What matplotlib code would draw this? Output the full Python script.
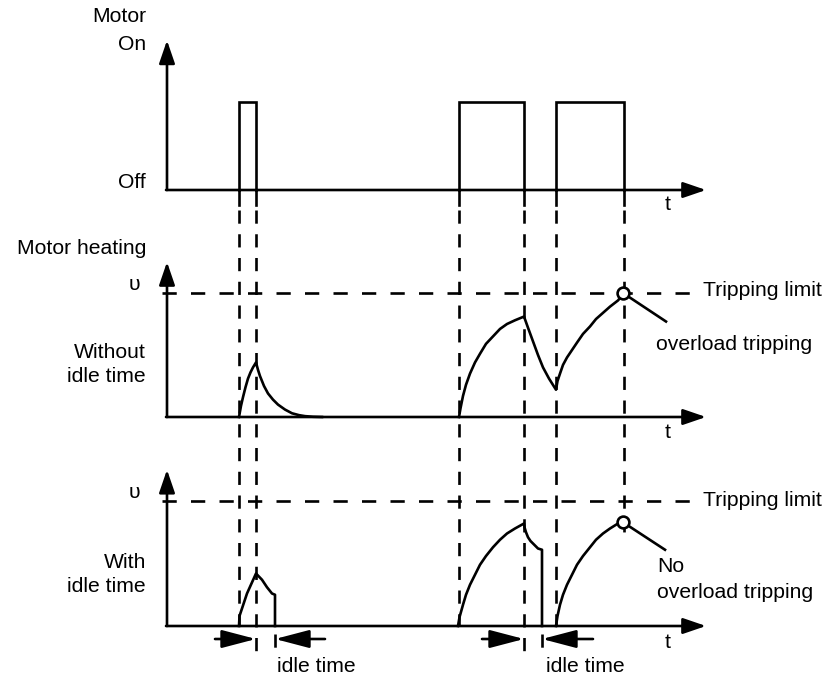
import matplotlib
matplotlib.use("Agg")
import matplotlib.pyplot as plt

plt.rcParams['font.family'] = ['Liberation Sans', 'DejaVu Sans']

# ---------------- data (time in arbitrary units, heating relative to tripping limit) -------------
t_axis_end = 53.9
t_on = [7.2, 29.2, 38.9]
t_off = [8.9, 35.7, 45.7]
t_idle_end = [10.8, 37.5]
motor_on_level = 1.0

# heating without idle time (segments)
wo_seg1_t = [7.2, 7.4, 7.6, 7.85, 8.1, 8.35, 8.6, 8.9,
             9.1, 9.3, 9.7, 10.1, 10.6, 11.1, 11.8, 12.5, 13.2, 13.8, 14.6, 15.5]
wo_seg1_v = [0.0, 0.09, 0.16, 0.24, 0.31, 0.36, 0.40, 0.44,
             0.38, 0.33, 0.25, 0.19, 0.14, 0.10, 0.06, 0.03, 0.015, 0.007, 0.002, 0.0]
wo_seg2_t = [29.2, 29.35, 29.6, 29.9, 30.3, 30.8, 31.3, 31.9, 32.6, 33.3, 34.0, 34.8, 35.7,
             36.1, 36.6, 37.1, 37.6, 38.2, 38.9,
             39.05, 39.3, 39.6, 40.0, 40.5, 41.0, 41.6, 42.3, 42.9, 43.6, 44.3, 45.1, 45.6]
wo_seg2_v = [0.0, 0.07, 0.17, 0.26, 0.35, 0.44, 0.51, 0.59, 0.65, 0.71, 0.75, 0.78, 0.81,
             0.72, 0.61, 0.50, 0.40, 0.31, 0.22,
             0.29, 0.35, 0.42, 0.48, 0.54, 0.60, 0.67, 0.73, 0.79, 0.84, 0.89, 0.94, 0.99]

# heating with idle time (segments)
wi_seg1_t = [7.2, 7.25, 8.0, 8.9, 9.2, 9.5, 10.0, 10.5, 10.8, 10.8]
wi_seg1_v = [0.0, 0.08, 0.26, 0.42, 0.395, 0.37, 0.31, 0.26, 0.25, 0.0]
wi_seg2_t = [29.1, 29.25, 29.6, 29.9, 30.3, 30.8, 31.3, 31.9, 32.6, 33.3, 34.0, 34.8, 35.7,
             35.75, 35.9, 36.1, 36.35, 36.6, 37.1, 37.5, 37.5]
wi_seg2_v = [0.0, 0.07, 0.17, 0.25, 0.33, 0.41, 0.49, 0.56, 0.63, 0.69, 0.74, 0.78, 0.82,
             0.79, 0.75, 0.71, 0.68, 0.66, 0.62, 0.61, 0.0]
wi_seg3_t = [38.9, 39.05, 39.3, 39.6, 40.0, 40.5, 41.0, 41.6, 42.3, 42.9, 43.6, 44.3, 45.1, 45.6]
wi_seg3_v = [0.0, 0.08, 0.17, 0.25, 0.33, 0.41, 0.49, 0.56, 0.63, 0.69, 0.74, 0.78, 0.82, 0.83]

trip_limit = 1.0
trip_point_wo = (45.6, 1.0)
trip_point_wi = (45.6, 0.83)
pointer_wo_end = (49.9, 0.77)
pointer_wi_end = (49.8, 0.61)

# ---------------- figure & axes ----------------
W, H = 827, 678
fig = plt.figure(figsize=(W / 100, H / 100), dpi=100)
XLIM = (-16.7, 66.0)

ov = fig.add_axes([0, 0, 1, 1])
ov.set_xlim(*XLIM)
ov.set_ylim(H, 0)
ov.axis('off')
ov.patch.set_alpha(0)


def panel(base_px, ppu):
    ax = fig.add_axes([0, 0, 1, 1])
    ax.set_xlim(*XLIM)
    ax.set_ylim((base_px - H) / ppu, base_px / ppu)
    ax.axis('off')
    ax.patch.set_alpha(0)
    return ax


top = panel(190, 88)
mid = panel(417, 124)
bot = panel(626, 125)

LW = 1.9
K = 'black'
axis_arrow = dict(arrowstyle='-|>,head_length=1.4,head_width=0.48', mutation_scale=10,
                  lw=LW, color=K, shrinkA=0, shrinkB=0)


def coord_axes(ax, ytop):
    ax.annotate('', xy=(0, ytop), xytext=(0, 0), arrowprops=axis_arrow)
    ax.annotate('', xy=(t_axis_end, 0), xytext=(-0.1, 0), arrowprops=axis_arrow)


coord_axes(top, 1.7)
coord_axes(mid, 1.25)
coord_axes(bot, 1.25)

# motor pulses
for a, b in zip(t_on, t_off):
    top.plot([a, a, b, b], [0, motor_on_level, motor_on_level, 0], color=K, lw=LW,
             solid_joinstyle='miter')
    top.plot([a, a], [0, -0.17], color=K, lw=LW)
    top.plot([b, b], [0, -0.17], color=K, lw=LW)

# heating curves
for ax, tt, vv in [(mid, wo_seg1_t, wo_seg1_v), (mid, wo_seg2_t, wo_seg2_v),
                   (bot, wi_seg1_t, wi_seg1_v), (bot, wi_seg2_t, wi_seg2_v),
                   (bot, wi_seg3_t, wi_seg3_v)]:
    ax.plot(tt, vv, color=K, lw=LW, solid_joinstyle='round')

# tripping limit lines
for ax in (mid, bot):
    ax.plot([-0.5, 52.3], [trip_limit, trip_limit], color=K, lw=LW,
            linestyle=(0, (5.4, 5.4)))

# pointer lines and circles
mid.plot([trip_point_wo[0], pointer_wo_end[0]], [trip_point_wo[1], pointer_wo_end[1]],
         color=K, lw=LW)
bot.plot([trip_point_wi[0], pointer_wi_end[0]], [trip_point_wi[1], pointer_wi_end[1]],
         color=K, lw=LW)
mid.plot(*trip_point_wo, marker='o', ms=8.5, mfc='white', mec=K, mew=LW, zorder=5)
bot.plot(*trip_point_wi, marker='o', ms=8.5, mfc='white', mec=K, mew=LW, zorder=5)

# vertical dashed guides (pixel y extents in overlay)
vdash = (0, (5, 4))
guides = [(t_on[0], 205, 626), (t_off[0], 205, 657),
          (t_on[1], 205, 626), (t_off[1], 205, 657),
          (t_on[2], 205, 626), (t_off[2], 205, 538),
          (t_idle_end[0], 629, 657), (t_idle_end[1], 629, 657)]
for x, y0, y1 in guides:
    ov.plot([x, x], [y0 + 5, y1], color=K, lw=LW, linestyle=vdash)

# idle time arrows
idle_arrow = dict(arrowstyle='-|>,head_length=2.1,head_width=0.55', mutation_scale=10,
                  lw=LW, color=K, shrinkA=0, shrinkB=0)
ya = 639
for t_stop, t_end, l_len, r_len in [(t_off[0], t_idle_end[0], 4.1, 5.0),
                                    (t_off[1], t_idle_end[1], 4.2, 5.1)]:
    ov.annotate('', xy=(t_stop, ya), xytext=(t_stop - l_len, ya), arrowprops=idle_arrow)
    ov.annotate('', xy=(t_end, ya), xytext=(t_end + r_len, ya), arrowprops=idle_arrow)

# ---------------- texts ----------------
FS = 15.2
def txt(x_px, y_px, s, ha='left'):
    ov.text((x_px - 167) / 10, y_px, s, fontsize=FS, ha=ha, va='center', color=K)

txt(146, 17, 'Motor', 'right')
txt(146, 44, 'On', 'right')
txt(146, 183, 'Off', 'right')
txt(146, 248, 'Motor heating', 'right')
txt(140, 284, 'υ', 'right')
txt(146, 352, 'Without', 'right')
txt(146, 377, 'idle time', 'right')
txt(140, 493, 'υ', 'right')
txt(146, 562, 'With', 'right')
txt(146, 587, 'idle time', 'right')
txt(665, 205, 't')
txt(665, 432, 't')
txt(665, 643, 't')
txt(703, 291, 'Tripping limit')
txt(703, 500, 'Tripping limit')
txt(656, 345, 'overload tripping')
txt(657, 567, 'No')
txt(657, 592, 'overload tripping')
txt(277, 667, 'idle time')
txt(546, 667, 'idle time')

fig.savefig('out.png', dpi=100, facecolor='white')
